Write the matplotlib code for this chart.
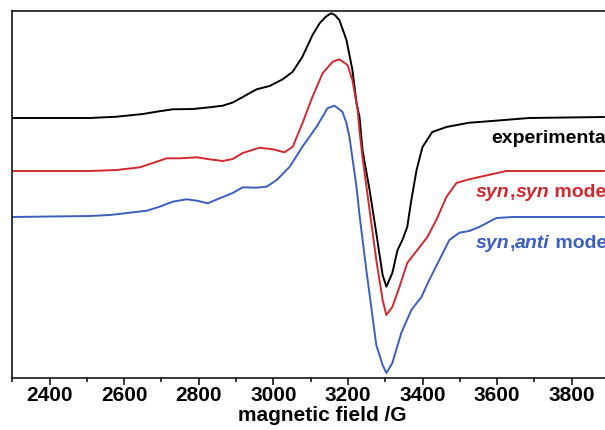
import matplotlib.pyplot as plt
import numpy as np

# field (G) and signal (a.u., relative to each trace's own baseline)
exp_field = [2300, 2508, 2580, 2650, 2687, 2730, 2784, 2829, 2864, 2891, 2918,
             2955, 2990, 3025, 3052, 3078, 3105, 3124, 3140, 3151, 3156, 3165, 3177,
             3196, 3212, 3223, 3231, 3239, 3258, 3276, 3284, 3293, 3303, 3319, 3333,
             3346, 3359, 3370, 3384, 3400, 3426, 3464, 3525, 3552, 3686, 3886]
exp_signal = [0, 0, 1.3, 4, 6.3, 8.7, 9, 10.7, 12.3, 15.5, 21,
              28.7, 32, 38.7, 46.3, 61.3, 83, 94.7, 101, 104, 104.7, 103, 98,
              78, 48, 15, 1, -32, -72, -115, -135, -157, -168.7, -155, -132,
              -122, -109, -82, -52, -29, -14, -9, -4.7, -4, 0, 1]

synsyn_field = [2300, 2508, 2580, 2642, 2669, 2714, 2749, 2795, 2829, 2864, 2891,
                2918, 2963, 2998, 3030, 3052, 3078, 3105, 3132, 3159, 3177, 3199, 3212,
                3226, 3231, 3239, 3258, 3276, 3293, 3303, 3319, 3338, 3359, 3386, 3413,
                3437, 3464, 3491, 3525, 3552, 3625, 3886]
synsyn_signal = [0, 0, 1, 3.7, 7, 12.7, 12.7, 13.7, 11.7, 10, 12,
                 18, 23.3, 21.7, 18.7, 24.3, 47.7, 74.3, 97.7, 109.3, 111.7, 106, 91,
                 61, 40, 14, -39, -89, -129, -144, -136, -116, -92, -79, -66,
                 -49, -26, -12, -8.3, -6, 0, 0]

synanti_field = [2300, 2508, 2562, 2615, 2661, 2695, 2730, 2768, 2795, 2824, 2856,
                 2891, 2918, 2955, 2982, 3009, 3044, 3078, 3116, 3145, 3164, 3185, 3196,
                 3204, 3223, 3231, 3250, 3276, 3293, 3303, 3319, 3343, 3370, 3397, 3418,
                 3445, 3472, 3499, 3525, 3552, 3598, 3641, 3886]
synanti_signal = [0, 1, 2, 4.3, 6.3, 10.3, 15.3, 17.7, 16.3, 13.7, 18.7,
                  24, 29.7, 29.3, 30.3, 37, 50.3, 70.3, 90.3, 108.7, 111.3, 105.3, 94,
                  80, 30, 2, -55, -128, -148, -156, -146, -116, -93, -80, -63,
                  -43, -23, -15.7, -14, -10, -1, 0, 0]

offsets = [260, 207, 161]
colors = ['black', '#d3282e', '#3b5ec2']

plt.rcParams['font.family'] = 'Liberation Sans'
plt.rcParams['font.weight'] = 'bold'

fig = plt.figure(figsize=(6.05, 4.30), dpi=100)
ax = fig.add_axes([12.3 / 605, 52 / 430, 596.7 / 605, 367.3 / 430])

traces = [(exp_field, exp_signal), (synsyn_field, synsyn_signal), (synanti_field, synanti_signal)]
for (f, s), off, c in zip(traces, offsets, colors):
    ax.plot(f, np.array(s) + off, color=c, lw=1.4, solid_joinstyle='round')

ax.set_xlim(2300, 3900)
ax.set_ylim(0, 367.3)
ax.set_xticks(np.arange(2400, 3801, 200))
ax.set_xticks(np.arange(2300, 3901, 100), minor=True)
ax.set_yticks([])
ax.tick_params(axis='x', which='major', length=5, width=1.1, labelsize=15, pad=0.5)
ax.tick_params(axis='x', which='minor', length=3, width=1.1)
for sp in ax.spines.values():
    sp.set_linewidth(1.1)
ax.set_xlabel('magnetic field /G', fontsize=15, fontweight='bold')
ax.xaxis.set_label_coords(0.52, -0.076)

# labels on the right
ax.text(3584, 234.7, 'experimental', fontsize=14, fontweight='bold', color='black', va='baseline')


def label(x, y, parts, color):
    t = ax.text(x, y, parts[0][0], fontsize=14, fontweight='bold', style=parts[0][1],
                color=color, va='baseline')
    for s, st in parts[1:]:
        t = ax.annotate(s, xy=(1, 0), xycoords=t, va='bottom', fontsize=14,
                        fontweight='bold', style=st, color=color)


label(3544, 181.3, [('syn', 'italic'), (',', 'normal'), ('syn', 'italic'), (' model', 'normal')], colors[1])
label(3544, 129.7, [('syn', 'italic'), (',', 'normal'), ('anti', 'italic'), (' model', 'normal')], colors[2])

plt.savefig('out.png', dpi=100)
